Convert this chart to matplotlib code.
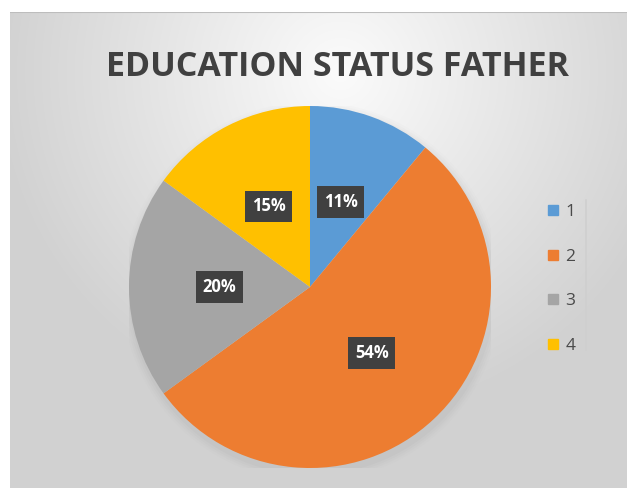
import numpy as np
import matplotlib.pyplot as plt
from matplotlib.patches import Circle
from matplotlib.lines import Line2D

labels = ['1', '2', '3', '4']
shares = [11, 54, 20, 15]
colors = ['#5B9BD5', '#ED7D31', '#A5A5A5', '#FFC000']

W, H = 627, 488
fig = plt.figure(figsize=(W / 100, H / 100), dpi=100)
fig.patch.set_facecolor('white')

# gradient background panel
bg = fig.add_axes([10 / W, 0, 1 - 10 / W, 1 - 12 / H])
yy, xx = np.mgrid[0:476, 0:617]
d = np.sqrt(((xx - 330) / 400.0) ** 2 + ((yy - 60) / 400.0) ** 2)
shade = np.clip(0.985 - 0.19 * d, 0.82, 0.985)
bg.imshow(np.dstack([shade] * 3), aspect='auto', extent=[0, 1, 0, 1])
bg.axhline(1, color='#bdbdbd', lw=1.5)
bg.set_axis_off()

fig.text(338 / W, 1 - 67 / H, 'EDUCATION STATUS FATHER', ha='center', va='center',
         fontsize=24.5, fontweight='bold', color='#404040', family='Open Sans')

ax = fig.add_axes([(310 - 181) / W, 1 - (287 + 181) / H, 362 / W, 362 / H])

# soft shadow
for i, a in enumerate([0.05, 0.04, 0.03, 0.02]):
    ax.add_patch(Circle((0.01, -0.025), 1.0 + 0.012 * (i + 1), color='#8a8a8a', alpha=a, lw=0))

wedges, texts, autotexts = ax.pie(shares, colors=colors, startangle=90, counterclock=False,
                                  autopct='%d%%', pctdistance=0.5, radius=1.0,
                                  wedgeprops=dict(linewidth=0))
ax.set_xlim(-1.0, 1.0)
ax.set_ylim(-1.0, 1.0)
ax.set_aspect('equal')
ax.set_axis_off()
for t in autotexts:
    t.set_color('white')
    t.set_fontweight('bold')
    t.set_fontsize(12)
    t.set_family('Open Sans')
    t.set_bbox(dict(boxstyle='square,pad=0.4', fc='#404040', ec='none'))

handles = [Line2D([], [], marker='s', linestyle='none', markersize=7,
                  markerfacecolor=c, markeredgecolor=c) for c in colors]
leg = fig.legend(handles, labels, loc='center left', bbox_to_anchor=(529 / W, 1 - 279 / H),
                 frameon=False, labelspacing=1.65, handletextpad=0.2,
                 handlelength=1.0, prop=dict(family='Open Sans', size=12.5))
for t in leg.get_texts():
    t.set_color('#4a4a4a')
fig.add_artist(Line2D([586 / W, 586 / W], [1 - 350 / H, 1 - 200 / H], color='#cfcfcf', lw=1.2))

fig.savefig('out.png', dpi=100)
